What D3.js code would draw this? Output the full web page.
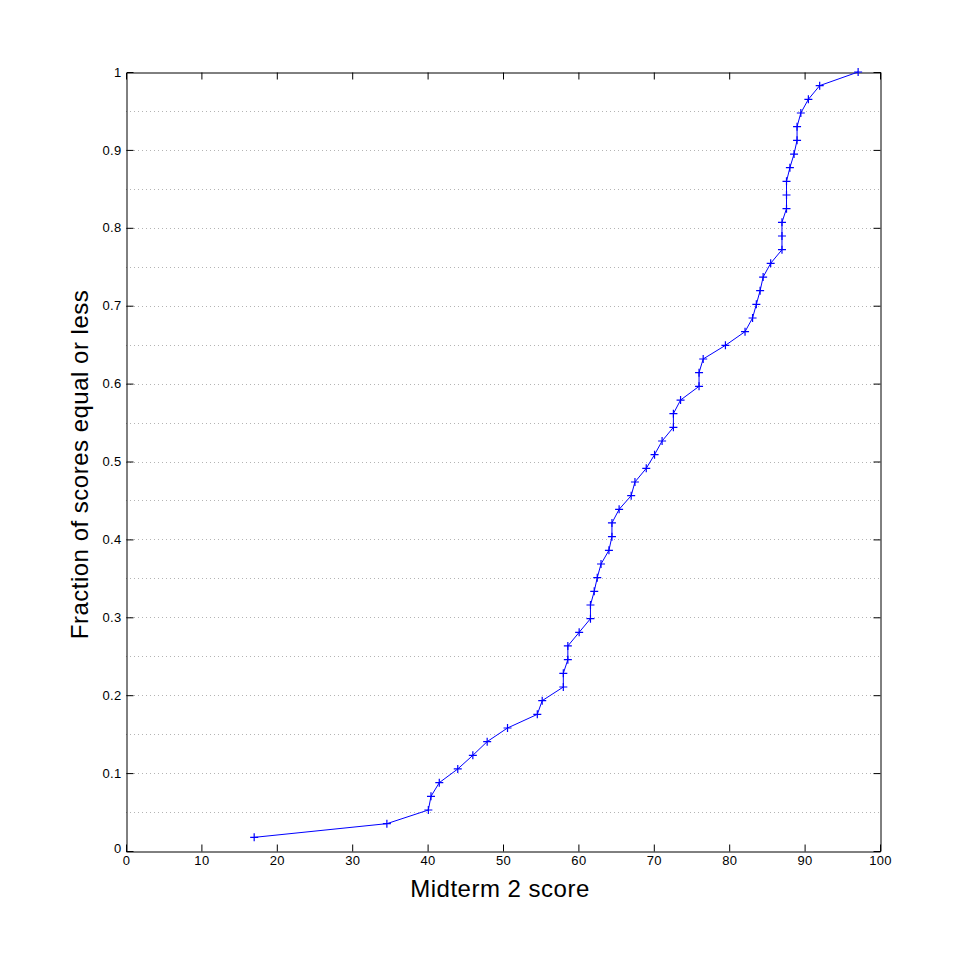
<!DOCTYPE html>
<html>
<head>
<meta charset="utf-8">
<script src="https://cdn.jsdelivr.net/npm/d3@7"></script>
<style>
  body { margin: 0; background: #fff; }
  svg { display: block; }
  text { font-family: "Liberation Sans", Arial, Helvetica, sans-serif; fill: #000; }
</style>
</head>
<body>
<svg id="chart" width="973" height="956"></svg>
<script>
// Scores (sorted) and cumulative fraction of scores equal or less
const scores = [17, 34.6, 40.1, 40.45, 41.55, 44.0, 46.0, 47.9, 50.6, 54.55,
  55.2, 58.0, 58.0, 58.6, 58.6, 60.1, 61.6, 61.6, 62.1, 62.5,
  63.0, 64.05, 64.45, 64.45, 65.4, 67.0, 67.5, 69.0, 70.1, 71.1,
  72.6, 72.6, 73.55, 76.0, 76.0, 76.55, 79.5, 82.1, 83.1, 83.6,
  84.1, 84.5, 85.5, 87.0, 87.0, 87.0, 87.6, 87.6, 87.6, 88.05,
  88.6, 89.0, 89.0, 89.5, 90.5, 92.0, 97.1];
const fractions = [0.0175, 0.0351, 0.0526, 0.0702, 0.0877, 0.1053, 0.1228, 0.1404, 0.1579, 0.1754,
  0.1930, 0.2105, 0.2281, 0.2456, 0.2632, 0.2807, 0.2982, 0.3158, 0.3333, 0.3509,
  0.3684, 0.3860, 0.4035, 0.4211, 0.4386, 0.4561, 0.4737, 0.4912, 0.5088, 0.5263,
  0.5439, 0.5614, 0.5789, 0.5965, 0.6140, 0.6316, 0.6491, 0.6667, 0.6842, 0.7018,
  0.7193, 0.7368, 0.7544, 0.7719, 0.7895, 0.8070, 0.8246, 0.8421, 0.8596, 0.8772,
  0.8947, 0.9123, 0.9298, 0.9474, 0.9649, 0.9825, 1.0];
const xTicks = [0, 10, 20, 30, 40, 50, 60, 70, 80, 90, 100];
const yTicks = [0, 0.1, 0.2, 0.3, 0.4, 0.5, 0.6, 0.7, 0.8, 0.9, 1];
const yGrid = [0.05, 0.1, 0.15, 0.2, 0.25, 0.3, 0.35, 0.4, 0.45, 0.5, 0.55, 0.6, 0.65, 0.7, 0.75, 0.8, 0.85, 0.9, 0.95];
const xLabel = "Midterm 2 score";
const yLabel = "Fraction of scores equal or less";

(function () {
const points = scores.map((s, i) => ({x: s, y: fractions[i]}));

const pL = 126, pR = 880, pT = 72, pB = 851;
const svg = d3.select("#chart");
const x = d3.scaleLinear().domain([0, 100]).range([pL, pR]);
const y = d3.scaleLinear().domain([0, 1]).range([pB, pT]);

// dotted horizontal grid
svg.append("g").selectAll("line").data(yGrid).join("line")
  .attr("x1", pL).attr("x2", pR)
  .attr("y1", d => Math.round(y(d)) + 0.5).attr("y2", d => Math.round(y(d)) + 0.5)
  .attr("stroke", "#b4b4b4").attr("stroke-width", 1)
  .attr("stroke-dasharray", "1,3");

const tickLen = 7;
const gx = svg.append("g").attr("transform", `translate(0,${pB + 0.5})`)
  .call(d3.axisBottom(x).tickValues(xTicks).tickSize(-tickLen).tickPadding(4).tickFormat(d3.format("d")));
const gxt = svg.append("g").attr("transform", `translate(0,${pT + 0.5})`)
  .call(d3.axisTop(x).tickValues(xTicks).tickSize(-tickLen).tickFormat(""));
const gy = svg.append("g").attr("transform", `translate(${pL + 0.5},0)`)
  .call(d3.axisLeft(y).tickValues(yTicks).tickSize(-tickLen).tickPadding(5).tickFormat(d => d === 0 || d === 1 ? d3.format("d")(d) : d3.format(".1f")(d)));
const gyr = svg.append("g").attr("transform", `translate(${pR + 0.5},0)`)
  .call(d3.axisRight(y).tickValues(yTicks).tickSize(-tickLen).tickFormat(""));

[gx, gxt, gy, gyr].forEach(g => {
  g.selectAll(".domain").attr("stroke", "#000").attr("stroke-width", 1);
  g.selectAll(".tick line").attr("stroke", "#000").attr("stroke-width", 1);
  g.selectAll("text").style("font-size", "13px").style("letter-spacing", "0.3px").attr("fill", "#000");
});
[gx, gxt].forEach(g => g.selectAll(".tick").filter(d => d === 0 || d === 100).select("line").remove());
[gy, gyr].forEach(g => g.selectAll(".tick").filter(d => d === 0 || d === 1).select("line").remove());
gy.selectAll(".tick").filter(d => d === 0).select("text").attr("dy", "0.1em");

// line
svg.append("path").datum(points)
  .attr("fill", "none").attr("stroke", "#0000ff").attr("stroke-width", 1)
  .attr("d", d3.line().x(d => x(d.x)).y(d => y(d.y)));

// plus markers
const m = 4;
svg.append("g").selectAll("path").data(points).join("path")
  .attr("d", d => {
    const px = x(d.x), py = y(d.y);
    return `M${px - m},${py}H${px + m}M${px},${py - m}V${py + m}`;
  })
  .attr("stroke", "#0000ff").attr("stroke-width", 1.2).attr("fill", "none");

// axis labels
svg.append("text").attr("x", (pL + pR) / 2 - 3).attr("y", 897)
  .attr("text-anchor", "middle").style("font-size", "24px").style("letter-spacing", "0.5px").text(xLabel);
svg.append("text").attr("transform", `translate(88,${(pT + pB) / 2 + 3}) rotate(-90)`)
  .attr("text-anchor", "middle").style("font-size", "24px").style("letter-spacing", "0.5px").text(yLabel);
})();
</script>
</body>
</html>
